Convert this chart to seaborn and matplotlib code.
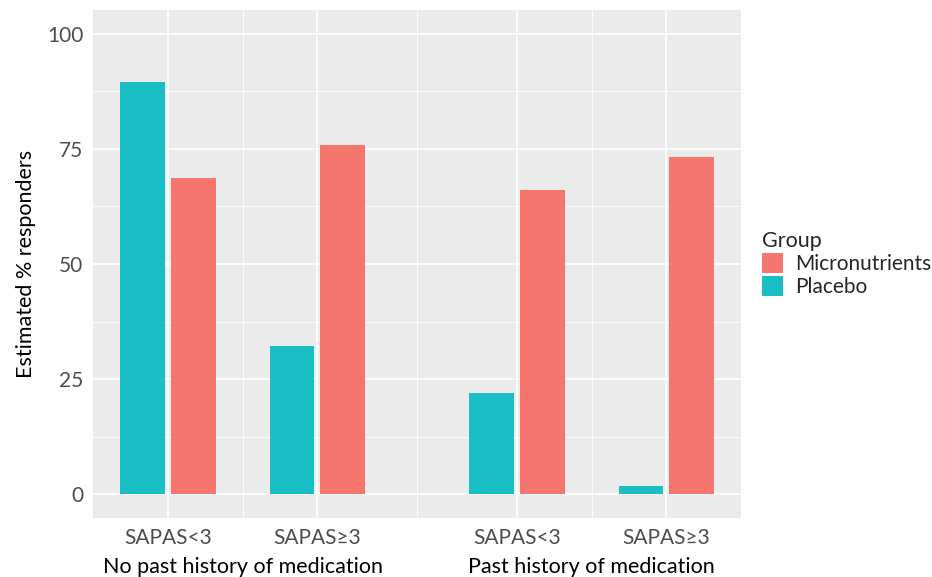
import numpy as np
import matplotlib
matplotlib.use("Agg")
import matplotlib.pyplot as plt
import matplotlib.transforms as mtransforms
import pandas as pd
import seaborn as sns

# values
history = ["No past history of medication", "No past history of medication",
           "Past history of medication", "Past history of medication"]
sapas = ["SAPAS<3", "SAPAS\u22653", "SAPAS<3", "SAPAS\u22653"]
placebo = [89.6, 32.2, 22.0, 1.7]
micronutrients = [68.7, 75.9, 66.1, 73.3]
group_names = ["No past history of medication", "Past history of medication"]
y_ticks = [0, 25, 50, 75, 100]

# build long table; x position leaves an extra gap between the two history groups
gap_extra = 1 / 3
pos = [i + group_names.index(h) * gap_extra for i, h in enumerate(history)]
rows = []
for p, v in zip(pos, placebo):
    rows.append({"pos": p, "value": v, "Group": "Placebo"})
for p, v in zip(pos, micronutrients):
    rows.append({"pos": p, "value": v, "Group": "Micronutrients"})
df = pd.DataFrame(rows)

sns.set_theme(style="darkgrid")
plt.rcParams["font.family"] = ["Lato", "DejaVu Sans"]

colors = {"Placebo": "#19BFC4", "Micronutrients": "#F5766F"}

fig = plt.figure(figsize=(9.32, 5.77), dpi=100)
ax = fig.add_axes([0.0998, 0.102, 0.6955, 0.881])
ax.set_facecolor("#EBEBEB")

sns.barplot(data=df, x="pos", y="value", hue="Group", hue_order=["Placebo", "Micronutrients"],
            palette=colors, saturation=1, native_scale=True, width=0.68, gap=0.12,
            errorbar=None, linewidth=0, ax=ax)

# axes limits / grid like ggplot's grey theme
ax.set_xlim(-0.5, pos[-1] + 0.5)
ax.set_ylim(-5.2, 105.2)
ax.set_xticks(pos)
ax.set_xticklabels(sapas)
mids = [(pos[i] + pos[i + 1]) / 2 for i in range(len(pos) - 1)]
ax.set_xticks(mids, minor=True)
ax.set_yticks(y_ticks)
ax.set_yticks([12.5, 37.5, 62.5, 87.5], minor=True)
ax.grid(which="major", color="white", linewidth=1.2)
ax.grid(which="minor", color="white", linewidth=0.6)
ax.set_axisbelow(True)
for s in ax.spines.values():
    s.set_visible(False)

ax.tick_params(axis="both", which="major", length=4, width=1, color="#333333",
               labelsize=15, labelcolor="#4D4D4D", pad=3)
ax.tick_params(axis="x", which="major", pad=3)
ax.tick_params(axis="both", which="minor", length=0)

ax.set_xlabel("")
ax.set_ylabel("Estimated % responders", fontsize=15.5, color="black", labelpad=8)

# second-level x labels for the medication history groups
trans = mtransforms.blended_transform_factory(ax.transData, ax.transAxes)
for g in group_names:
    gp = [p for p, h in zip(pos, history) if h == g]
    ax.text(np.mean(gp), -0.077, g, transform=trans, ha="center", va="top",
            fontsize=15.5, color="black")

# legend: Micronutrients listed first
handles, labels = ax.get_legend_handles_labels()
order = [labels.index("Micronutrients"), labels.index("Placebo")]
leg = ax.legend([handles[i] for i in order], [labels[i] for i in order],
                title="Group", loc="center left", bbox_to_anchor=(1.003, 0.5),
                frameon=False, fontsize=15, title_fontsize=15.5,
                handlelength=1.0, handleheight=1.1, labelspacing=0.1,
                handletextpad=0.6, alignment="left")

fig.savefig("out.png", dpi=100)
